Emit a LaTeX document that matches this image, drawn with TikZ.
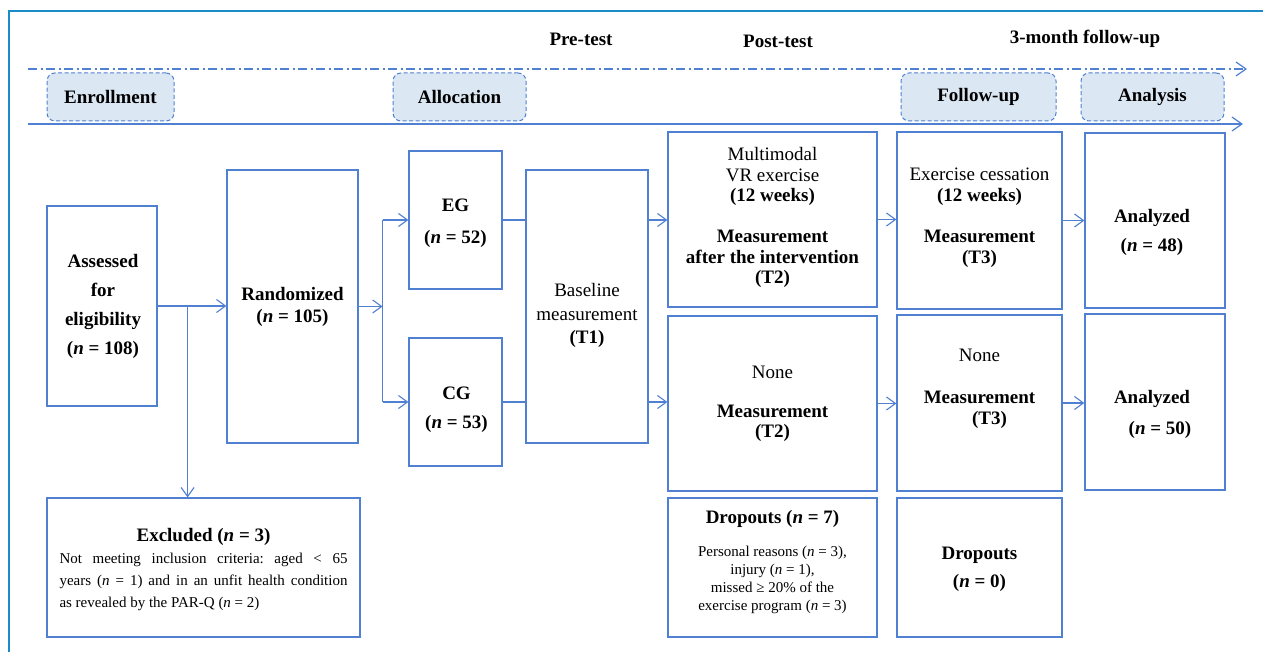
\documentclass[tikz,border=0pt]{standalone}
\usepackage{fontspec}
\setmainfont{Liberation Serif}
\usetikzlibrary{arrows.meta,calc}
\definecolor{boxc}{RGB}{80,128,210}
\definecolor{framec}{RGB}{26,140,200}
\definecolor{phasefill}{RGB}{220,231,244}
\newcommand\myfs[2]{\fontsize{#1}{#2}\selectfont}
\tikzset{
  box/.style={draw=boxc, line width=1.2pt, inner sep=0pt},
  phase/.style={draw=boxc, dash pattern=on 4pt off 2.5pt, fill=phasefill, rounded corners=8pt, line width=1pt, inner sep=0pt, font=\bfseries\myfs{19}{22}},
  txt/.style={align=center, inner sep=0pt, font=\myfs{19}{#1}},
  txt/.default=21,
  btxt/.style={align=center, inner sep=0pt, font=\bfseries\myfs{19}{#1}},
  btxt/.default=21,
  arr/.style={draw=boxc, line width=1.1pt, -{Straight Barb[length=9pt,width=13pt]}},
  link/.style={draw=boxc, line width=1.1pt},
  head/.style={font=\bfseries\myfs{19}{22}, inner sep=0pt},
  framel/.style={draw=framec, line width=2.5pt}
}
\begin{document}
\begin{tikzpicture}[x=1pt,y=-1pt]
\useasboundingbox (0,0) rectangle (1263,652);
\fill[white] (0,0) rectangle (1263,652);
\draw[framel] (9,652) -- (9,11) -- (1263,11);

% header labels
\node[head] (pre) at (581,39) {Pre-test};
\node[head] (post) at (778,41) {Post-test};
\node[head] (fu3) at (1085,39) {3-month follow-up};

% timeline lines
\coordinate (dl0) at (28,69); \coordinate (dl1) at (1247,69);
\coordinate (sl0) at (28,124); \coordinate (sl1) at (1243,124);
\draw[draw=boxc, line width=1.2pt, dash pattern=on 9pt off 3.5pt on 2pt off 3.5pt, -{Straight Barb[length=10pt,width=14pt]}] (dl0) -- (dl1);
\draw[draw=boxc, line width=1.2pt, -{Straight Barb[length=10pt,width=14pt]}] (sl0) -- (sl1);

% phase boxes
\node[phase, minimum width=127pt, minimum height=48pt] (enr) at (110.5,97) {Enrollment};
\node[phase, minimum width=133pt, minimum height=48pt] (alloc) at (459.5,97) {Allocation};
\node[phase, minimum width=155pt, minimum height=48pt] (fol) at (978.5,97) {Follow-up};
\node[phase, minimum width=143pt, minimum height=48pt] (ana) at (1152.5,97) {Analysis};

% boxes
\node[box, minimum width=110pt, minimum height=200pt] (assess) at (102,306) {};
\node[box, minimum width=131pt, minimum height=273pt] (rand) at (292.5,306.5) {};
\node[box, minimum width=93pt, minimum height=138pt] (eg) at (455.5,220) {};
\node[box, minimum width=93pt, minimum height=128pt] (cg) at (455.5,402) {};
\node[box, minimum width=122pt, minimum height=273pt] (base) at (587,306.5) {};
\node[box, minimum width=209pt, minimum height=175pt] (mm) at (772.5,219.5) {};
\node[box, minimum width=209pt, minimum height=175pt] (nt2) at (772.5,403.5) {};
\node[box, minimum width=165pt, minimum height=177pt] (ex) at (979.5,220.5) {};
\node[box, minimum width=165pt, minimum height=176pt] (nt3) at (979.5,403) {};
\node[box, minimum width=140pt, minimum height=175pt] (an1) at (1155,220.5) {};
\node[box, minimum width=140pt, minimum height=176pt] (an2) at (1155,402) {};
\node[box, minimum width=313pt, minimum height=139pt] (excl) at (203.5,567.5) {};
\node[box, minimum width=209pt, minimum height=139pt] (do7) at (772.5,567.5) {};
\node[box, minimum width=165pt, minimum height=139pt] (do0) at (979.5,567.5) {};

% texts
\node[btxt=29] (assesst) at ($(assess)+(1,0)$) {Assessed\\for\\eligibility\\(\textit{n} = 108)};
\node[btxt=22] (randt) at ($(rand)+(0,0.5)$) {Randomized\\(\textit{n} = 105)};
\node[btxt=32] (egt) at ($(eg)+(0,3)$) {EG\\(\textit{n} = 52)};
\node[btxt=29] (cgt) at ($(cg)+(1,7.5)$) {CG\\(\textit{n} = 53)};
\node[txt=23.5] (baset) at ($(base)+(0,9)$) {Baseline\\measurement\\\textbf{(T1)}};
\node[txt=20.5] (mmt) at ($(mm)+(0,-2)$) {Multimodal\\VR exercise\\\textbf{(12 weeks)}\\[20.5pt]\textbf{Measurement}\\\textbf{after the intervention}\\\textbf{(T2)}};
\node[txt=19.5] (nt2t) at ($(nt2)+(0,0.5)$) {None\\[19.5pt]\textbf{Measurement}\\\textbf{(T2)}};
\node[txt=20.75] (ext) at ($(ex)+(0,-3)$) {Exercise cessation\\\textbf{(12 weeks)}\\[20.75pt]\textbf{Measurement}\\\textbf{(T3)}};
\node[txt=21] (nt3t) at ($(nt3)+(0,-14.5)$) {None\\[21pt]\textbf{Measurement}\\\hspace*{20pt}\textbf{(T3)}};
\node[btxt=29] (an1t) at ($(an1)+(-3,12)$) {Analyzed\\(\textit{n} = 48)};
\node[btxt=31] (an2t) at ($(an2)+(-3,12.5)$) {Analyzed\\\hspace*{16pt}(\textit{n} = 50)};
\node[inner sep=0pt, text width=288pt, align=justify, font=\myfs{15}{22}\frenchspacing] (exclt) at ($(excl)+(0,2.5)$) {{\centering\bfseries\myfs{19}{24}Excluded (\textit{n} = 3)\par}Not meeting inclusion criteria: aged < 65\linebreak years (\textit{n} = 1) and in an unfit health condition\linebreak as revealed by the PAR-Q (\textit{n} = 2)};
\node[align=center, inner sep=0pt, font=\myfs{15}{18}] (do7t) at ($(do7)+(0,-5)$) {{\bfseries\myfs{19}{21}Dropouts (\textit{n} = 7)}\\[15pt]Personal reasons (\textit{n} = 3),\\injury (\textit{n} = 1),\\missed ≥ 20\% of the\\exercise program (\textit{n} = 3)};
\node[btxt=28] (do0t) at ($(do0)+(0,1.5)$) {Dropouts\\(\textit{n} = 0)};

% connectors
\draw[arr] (assess.east) -- (assess.east -| rand.west);
\coordinate (br) at ($(assess.east)+(30,0)$);
\draw[arr] (br) -- (br |- excl.north);
\draw[arr] (rand.east) -- ++(24,0) coordinate (sp);
\draw[link] (sp |- eg.west) -- (sp |- cg.west);
\draw[arr] (sp |- eg.west) -- (eg.west);
\draw[arr] (sp |- cg.west) -- (cg.west);
\draw[link] (eg.east) -- (eg.east -| base.west);
\draw[link] (cg.east) -- (cg.east -| base.west);
\draw[arr] (base.east |- eg.east) -- (mm.west |- eg.east);
\draw[arr] (base.east |- cg.east) -- (nt2.west |- cg.east);
\draw[arr] (mm.east) -- (mm.east -| ex.west);
\draw[arr] (nt2.east) -- (nt2.east -| nt3.west);
\draw[arr] (ex.east) -- (ex.east -| an1.west);
\draw[arr] (nt3.east) -- (nt3.east -| an2.west);
\end{tikzpicture}
\end{document}
